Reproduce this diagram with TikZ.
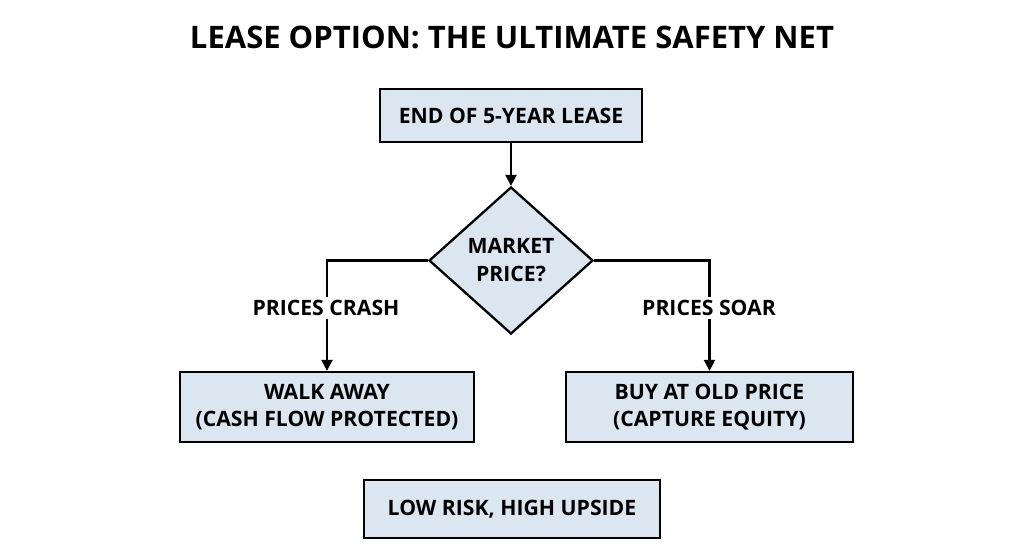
\documentclass[tikz,border=0pt]{standalone}
\usepackage{fontspec}
\setmainfont{Open Sans}
\usetikzlibrary{arrows.meta,shapes.geometric}

\definecolor{boxfill}{HTML}{DCE6F1}

\begin{document}
\begin{tikzpicture}[x=1pt,y=-1pt,
  box/.style={draw=black,fill=boxfill,line width=2.3pt,align=center,inner sep=0pt,
    font=\fontsize{21.2}{27}\selectfont\bfseries},
  choice/.style={draw=black,fill=boxfill,line width=2.3pt,shape=diamond,inner sep=0pt,
    minimum width=164pt,minimum height=147pt,align=center,
    font=\fontsize{21.2}{28}\selectfont\bfseries},
  branch/.style={fill=white,inner sep=3pt,font=\fontsize{21.2}{25}\selectfont\bfseries},
  link/.style={line width=2.3pt,-{Triangle[width=11pt,length=11pt]}}]
\useasboundingbox[fill=white] (0,0) rectangle (1024,559);
\node[font=\fontsize{31}{36}\selectfont\bfseries] (title) at (512,37) {LEASE OPTION: THE ULTIMATE SAFETY NET};
\node[box,minimum width=262pt,minimum height=53pt] (lease) at (511,115.5) {END OF 5-YEAR LEASE};
\node[choice] (market) at (511,260.5) {MARKET\\PRICE?};
\node[box,minimum width=294pt,minimum height=70pt] (walk) at (327,407) {WALK AWAY\\(CASH FLOW PROTECTED)};
\node[box,minimum width=287pt,minimum height=70pt] (buy) at (709.5,407) {BUY AT OLD PRICE\\(CAPTURE EQUITY)};
\node[box,minimum width=296pt,minimum height=58pt] (risk) at (512,509) {LOW RISK, HIGH UPSIDE};
\draw[link] (lease) -- (market);
\draw[link] (market.west) -| (walk.north);
\draw[link] (market.east) -| (buy.north);
\node[branch] (crash) at (326,308) {PRICES CRASH};
\node[branch] (soar) at (709,308) {PRICES SOAR};
\end{tikzpicture}
\end{document}
